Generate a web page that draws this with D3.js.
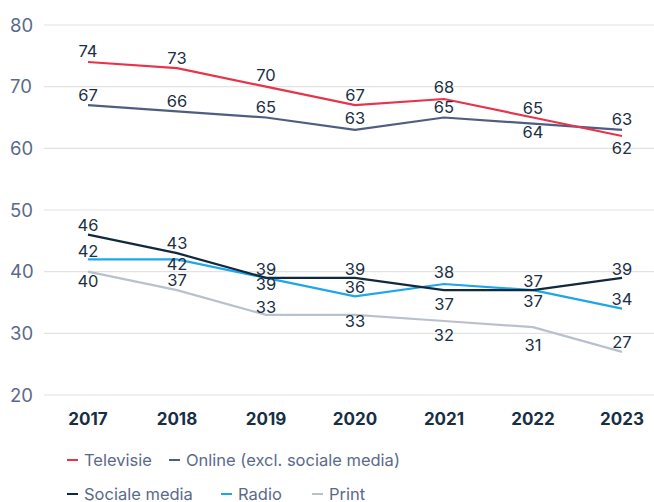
<!DOCTYPE html>
<meta charset="utf-8">
<style>
body { margin: 0; background: #fff; }
svg text { font-family: Inter, "Open Sans", sans-serif; }
.grid line { stroke: #e2e2e2; stroke-width: 1.2px; }
.ytick { fill: #5b6a8a; font-size: 18.5px; }
.xtick { fill: #172f45; font-size: 17px; font-weight: 700; }
.val { fill: #1b3045; font-size: 16.5px; }
.legend text { fill: #5b6a8a; font-size: 16.5px; }
</style>
<body>
<svg width="654" height="502"></svg>
</body>
<script src="https://d3js.org/d3.v7.min.js"></script>
<script>

var years = [2017, 2018, 2019, 2020, 2021, 2022, 2023];
var yTicks = [20, 30, 40, 50, 60, 70, 80];

var televisie = [74, 73, 70, 67, 68, 65, 62];
var online = [67, 66, 65, 63, 65, 64, 63];
var socialeMedia = [46, 43, 39, 39, 37, 37, 39];
var radio = [42, 42, 39, 36, 38, 37, 34];
var print = [40, 37, 33, 33, 32, 31, 27];

var names = ["Televisie", "Online (excl. sociale media)", "Sociale media", "Radio", "Print"];
var colors = ["#e8344a", "#4f5e80", "#10293f", "#1fa5ea", "#b9c1cd"];

// label nudges (px) so the value labels sit where the original puts them
var labelDy = [
  [-11, -10, -12, -10, -12, -9, 12],
  [-10, -10, -10, -12, -10, 8, -11],
  [-10, -10, -9, -9, 14, -9, -9],
  [-8, 5, 6, -9, -12, 11, -10],
  [9, -10, -8, 6, 14, 18, -10]
];

var series = [televisie, online, socialeMedia, radio, print];

var svg = d3.select("svg");

var x = d3.scalePoint()
    .domain(years)
    .range([88, 622]);

var y = d3.scaleLinear()
    .domain([20, 80])
    .range([395, 25]);

// grid + y labels
var grid = svg.append("g").attr("class", "grid");
grid.selectAll("line")
  .data(yTicks)
  .enter().append("line")
    .attr("x1", 44).attr("x2", 654)
    .attr("y1", function(d) { return y(d); })
    .attr("y2", function(d) { return y(d); });

svg.append("g").selectAll("text")
  .data(yTicks)
  .enter().append("text")
    .attr("class", "ytick")
    .attr("x", 10)
    .attr("y", function(d) { return y(d); })
    .attr("dy", "0.36em")
    .text(function(d) { return d; });

// x labels
svg.append("g").selectAll("text")
  .data(years)
  .enter().append("text")
    .attr("class", "xtick")
    .attr("x", function(d) { return x(d); })
    .attr("y", 419)
    .attr("dy", "0.36em")
    .attr("text-anchor", "middle")
    .text(function(d) { return d; });

var line = d3.line()
    .x(function(d, i) { return x(years[i]); })
    .y(function(d) { return y(d); });

// draw from the back: print first, televisie last
var order = [4, 3, 2, 1, 0];
order.forEach(function(s) {
  svg.append("path")
    .datum(series[s])
    .attr("fill", "none")
    .attr("stroke", colors[s])
    .attr("stroke-width", 2.2)
    .attr("d", line);
});

series.forEach(function(vals, s) {
  svg.append("g").selectAll("text")
    .data(vals)
    .enter().append("text")
      .attr("class", "val")
      .attr("x", function(d, i) { return x(years[i]); })
      .attr("y", function(d, i) { return y(d) + labelDy[s][i]; })
      .attr("dy", "0.36em")
      .attr("text-anchor", "middle")
      .text(function(d) { return d; });
});

// legend
var legendPos = [[67, 460], [169, 460], [67, 494], [221, 494], [312, 494]];
var legend = svg.append("g").attr("class", "legend");
names.forEach(function(n, i) {
  var g = legend.append("g")
    .attr("transform", "translate(" + legendPos[i][0] + "," + legendPos[i][1] + ")");
  g.append("line")
    .attr("x1", 0).attr("x2", 11)
    .attr("stroke", colors[i])
    .attr("stroke-width", 2);
  g.append("text")
    .attr("x", 17)
    .attr("dy", "0.36em")
    .text(n);
});

</script>
